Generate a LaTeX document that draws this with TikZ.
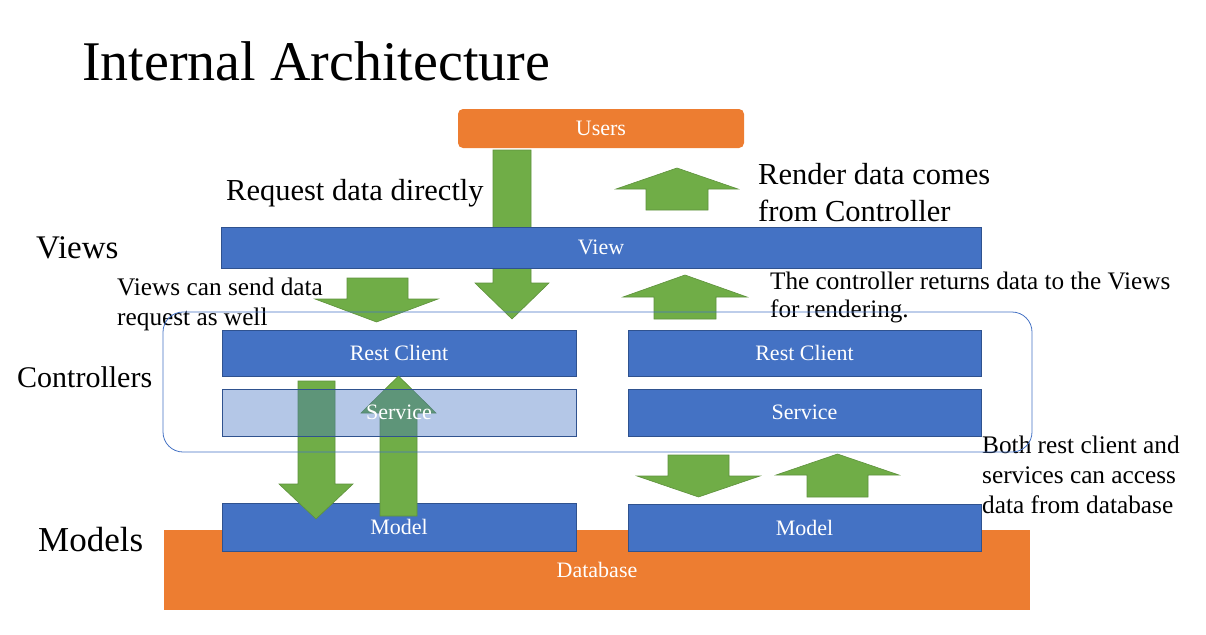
\documentclass[tikz,border=0pt]{standalone}
\usepackage{fontspec}
\setmainfont{Liberation Serif}
\definecolor{mblue}{HTML}{4472C4}
\definecolor{mblueb}{HTML}{2F528F}
\definecolor{morange}{HTML}{ED7D31}
\definecolor{mgreen}{HTML}{70AD47}
\definecolor{mgreenb}{HTML}{5E913C}
\newcommand\blockdown[7]{\path[blockarrow] (#1,#3) -- (#2,#3) -- (#2,#4) -- (#6,#4) -- ({(#5+#6)/2},#7) -- (#5,#4) -- (#1,#4) -- cycle;}
\newcommand\blockup[7]{\path[blockarrow] (#1,#3) -- (#2,#3) -- (#2,#4) -- (#6,#4) -- ({(#5+#6)/2},#7) -- (#5,#4) -- (#1,#4) -- cycle;}
\tikzset{
  bluebox/.style={draw=mblueb, fill=mblue, line width=0.8pt, text=white, inner sep=0pt,
    font=\fontsize{22}{26}\selectfont},
  orangebox/.style={fill=morange, text=white, inner sep=0pt, font=\fontsize{22}{26}\selectfont},
  blockarrow/.style={fill=mgreen, draw=mgreenb, line width=0.6pt, line join=miter},
  bigtext/.style={anchor=base west, inner sep=0pt, align=left, font=\fontsize{30.5}{37}\selectfont},
  labeltext/.style={anchor=base west, inner sep=0pt, font=\fontsize{33}{38}\selectfont},
  smalltext/.style={anchor=base west, inner sep=0pt, align=left, font=\fontsize{25.3}{30}\selectfont},
}
\begin{document}
\begin{tikzpicture}[x=1pt,y=-1pt]
\useasboundingbox (0,0) rectangle (1206,634);
% title
\node[anchor=base west, inner sep=0pt, font=\fontsize{56}{60}\selectfont] (title) at (82,80) {Internal Architecture};
% users
\node[orangebox, rounded corners=5pt, minimum width=286pt, minimum height=39pt] (users) at (601,128.5) {Users};
% long arrow from users through view
\blockdown{493}{531}{150}{283}{475}{549}{319}
% view
\node[bluebox, minimum width=760pt, minimum height=41pt] (view) at (601,247.5) {View};
% arrows around view
\blockup{646}{708}{210}{189}{616}{738}{168}
\blockup{654}{716}{319}{297}{623}{747}{275}
\blockdown{347}{408}{278}{299}{315}{438}{322}
% database and models
\node[orangebox, minimum width=866pt, minimum height=80pt, text depth=0pt] (db) at (597,570) {Database};
\node[bluebox, minimum width=354pt, minimum height=48pt] (m1) at (399,527) {Model};
\node[bluebox, minimum width=353pt, minimum height=47pt] (m2) at (804.5,527.5) {Model};
% controllers
\node[bluebox, minimum width=354pt, minimum height=46pt] (rc1) at (399,353) {Rest Client};
\node[bluebox, minimum width=353pt, minimum height=46pt] (rc2) at (804.5,353) {Rest Client};
\node[bluebox, minimum width=353pt, minimum height=47pt] (sv2) at (804.5,412.5) {Service};
% left arrows
\blockdown{298}{335}{381}{484}{279}{353}{519}
\blockup{380}{417}{516}{413}{361}{436}{376}
\node[bluebox, fill opacity=0.4, text opacity=1, minimum width=354pt, minimum height=47pt] (sv1) at (399,412.5) {Service};
% right arrows
\blockdown{668}{729}{455}{476}{637}{760}{497}
\blockup{807}{868}{497}{475}{776}{899}{454}
% texts (multi-line nodes: base = last line)
\node[bigtext] (t1) at (226,200) {Request data directly};
\node[bigtext] (t2) at (758,221) {Render data comes\\from Controller};
\node[labeltext] (views) at (36,258) {Views};
\node[labeltext, font=\fontsize{30}{36}\selectfont] (ctrls) at (17,387) {Controllers};
\node[labeltext, font=\fontsize{35}{40}\selectfont] (models) at (38,551) {Models};
\node[smalltext] (t3) at (117,325) {Views can send data\\request as well};
\node[smalltext, font=\fontsize{25.2}{28}\selectfont] (t4) at (770,317) {The controller returns data to the Views\\for rendering.};
\node[smalltext] (t5) at (982,513) {Both rest client and\\services can access\\data from database};
% controllers frame
\node[draw=mblue, line width=0.8pt, rounded corners=20pt, minimum width=869pt, minimum height=140pt, inner sep=0pt] (ctrl) at (597.5,382) {};
\end{tikzpicture}
\end{document}
